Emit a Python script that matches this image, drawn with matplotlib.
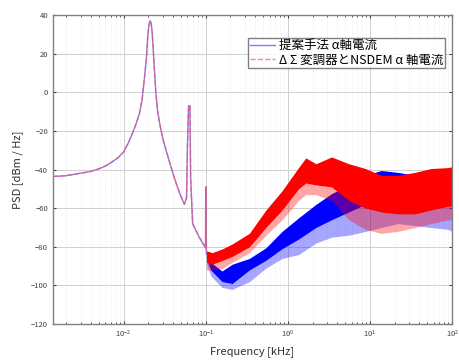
import matplotlib
matplotlib.use("Agg")
import matplotlib.pyplot as plt
import numpy as np

plt.rcParams['font.family'] = ['Noto Sans CJK JP', 'DejaVu Sans']

# shared low-frequency part (both signals identical here)
f_low = [1.38e-3, 2e-3, 2.9e-3, 4e-3, 5.1e-3, 6e-3, 7e-3, 8.5e-3, 0.01, 0.0115,
         0.0129, 0.0143, 0.0156, 0.0168, 0.018, 0.019, 0.0197, 0.0204, 0.0211,
         0.0217, 0.0223, 0.023, 0.0237, 0.0247, 0.0258, 0.028, 0.0305, 0.0329,
         0.038, 0.0435, 0.049, 0.0549, 0.0584, 0.060, 0.0619, 0.0643, 0.0655,
         0.0693, 0.0833, 0.0995, 0.100, 0.101, 0.102]
psd_low = [-43.6, -43.2, -42.0, -41.0, -39.5, -38.2, -36.5, -34.0, -31.0, -26.0,
           -21.0, -16.0, -11.0, -4.0, 7.8, 18.0, 29.0, 35.0, 37.0,
           35.5, 31.0, 22.0, 12.0, 0.0, -9.0, -18.0, -25.0, -30.0,
           -39.0, -47.0, -53.0, -58.0, -54.5, -26.5, -7.0, -7.0, -44.0,
           -68.0, -75.0, -80.5, -49.0, -49.0, -84.0]

# proposed method (blue): noisy band read as upper edge / dense lower edge / spike floor
f_blue = [0.102, 0.115, 0.158, 0.21, 0.34, 0.54, 0.85, 1.35, 2.2, 3.4, 5.5, 8.8,
          13.7, 22, 35, 55, 90, 100]
blue_top = [-84, -88, -92.5, -89, -86, -80.5, -72, -65, -58, -52.5, -48, -43,
            -40.5, -41.5, -43, -46, -48, -49]
blue_core = [-86, -92, -98, -99, -92, -87, -81, -76, -70, -66, -62, -58,
             -56, -56, -57, -58, -58, -58]
blue_floor = [-88, -95, -101, -102, -98, -91, -86, -84, -78, -75, -74, -72,
              -70, -68, -69, -70, -71, -72]

# delta-sigma + NSDEM (red)
f_red = [0.102, 0.12, 0.16, 0.21, 0.34, 0.54, 0.85, 1.35, 1.65, 2.2, 3.4, 5.5,
         8.8, 13.7, 22, 35, 55, 90, 100]
red_top = [-82, -83, -81, -78.5, -73, -61, -51, -39, -34, -37, -33.5, -37,
           -39.5, -43, -43, -41.5, -39.5, -39, -38.5]
red_core = [-88, -89, -87, -85, -80, -70, -61, -50, -47, -48, -49, -56,
            -60, -62, -63, -63, -61, -59, -59]
red_floor = [-92, -92, -91, -88, -83, -74, -66, -56, -53, -53, -56, -66,
             -71, -73, -72, -70, -68, -66, -66]

labels = ['提案手法 α軸電流', 'Δ Σ 変調器とNSDEM α 軸電流']

fig = plt.figure(figsize=(4.6, 3.63), dpi=100)
ax = fig.add_axes([0.115, 0.107, 0.868, 0.852])

ax.fill_between(f_blue, blue_core, blue_floor, color='blue', alpha=0.35, lw=0)
ax.fill_between(f_blue, blue_top, blue_core, color='blue', lw=0)
ax.fill_between(f_red, red_core, red_floor, color='red', alpha=0.35, lw=0)
ax.fill_between(f_red, red_top, red_core, color='red', lw=0)

ax.plot(f_low, psd_low, color='#8080ff', lw=1.0, label=labels[0])
ax.plot(f_low, psd_low, color='#ff5050', lw=1.0, ls='--', alpha=0.7, label=labels[1])

ax.set_xscale('log')
ax.set_xlim(1.38e-3, 100)
ax.set_ylim(-120, 40)
ax.set_yticks(np.arange(-120, 41, 20))
ax.set_xticks([1e-2, 1e-1, 1e0, 1e1, 1e2])

ax.grid(True, which='major', color='#d0d0d0', lw=0.7)
ax.grid(True, which='minor', axis='x', color='#e4e4e4', lw=0.5, ls=':')
ax.set_axisbelow(True)
ax.tick_params(which='both', direction='in', top=True, right=True, labelsize=5.5,
               colors='#404040', length=2.5)
ax.tick_params(which='minor', length=1.5)
for s in ax.spines.values():
    s.set_color('#808080')
    s.set_linewidth(1.0)

ax.set_xlabel('Frequency [kHz]', fontsize=8, color='#303030', labelpad=4)
ax.set_ylabel('PSD [dBm / Hz]', fontsize=8, color='#303030', labelpad=6)

leg = ax.legend(loc='upper right', bbox_to_anchor=(0.9825, 0.9256), borderaxespad=0,
                fontsize=9, frameon=True, fancybox=False, handlelength=2.0,
                borderpad=0.15, labelspacing=0.05, handletextpad=0.3)
leg.get_frame().set_edgecolor('#606060')
leg.get_frame().set_linewidth(1.0)

fig.savefig('out.png', dpi=100)
